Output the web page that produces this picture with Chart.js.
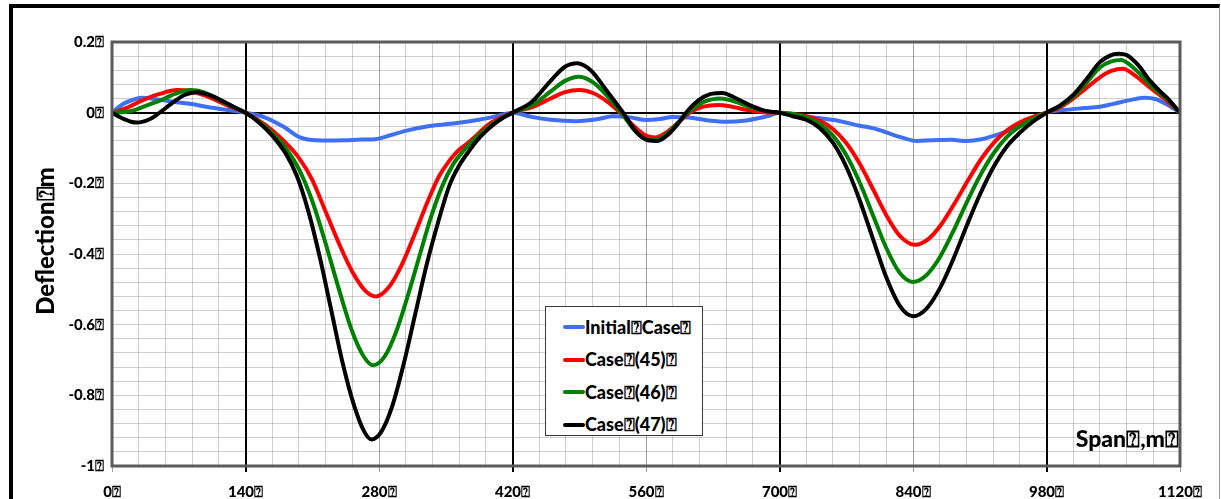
<!DOCTYPE html>
<html>
<head>
<meta charset="utf-8">
<script src="https://cdn.jsdelivr.net/npm/chart.js@4.4.1/dist/chart.umd.min.js"></script>
<style>
  html, body { margin: 0; padding: 0; background: #fff; overflow: hidden; }
  #wrap { position: relative; width: 1221px; height: 499px; }
  #frame { position: absolute; left: 9px; top: 4px; width: 1206px; height: 540px;
    border-top: 4px solid #000; border-left: 4px solid #000; border-right: 1px solid #9a9a9a; }
  #chart { position: absolute; left: 0; top: 0; }
  #legend { position: absolute; left: 545px; top: 306px; width: 158px; height: 130px;
    background: #fff; border: 1.5px solid #3a3a3a; box-sizing: border-box; padding-top: 4px; }
  .lg-row { display: flex; align-items: center; height: 32.5px; padding-left: 17px;
    font: 900 18px Lato, "DejaVu Sans", sans-serif; color: #000; }
  .lg-line { width: 22px; height: 4px; border-radius: 2px; }
</style>
</head>
<body>
<div id="wrap">
  <div id="frame"></div>
  <canvas id="chart" width="1221" height="499"></canvas>
  <div id="legend"></div>
</div>
<script>
var BOX = '\u2370';

// deflection along the span, [span m, deflection m]
var initialCase = [
  [0, 0], [12, 0.025], [24, 0.038], [32, 0.042], [46, 0.038], [64, 0.031], [85, 0.024], [100, 0.016], [120, 0.008], [140, 0],
  [160, -0.013], [180, -0.04], [197, -0.07], [221, -0.079], [245, -0.078], [262, -0.076], [276, -0.075], [292, -0.064],
  [310, -0.05], [333, -0.038], [360, -0.03], [385, -0.02], [400, -0.012], [420, 0],
  [440, -0.012], [460, -0.02], [487, -0.024], [510, -0.018], [525, -0.01], [545, -0.014], [560, -0.021], [575, -0.018],
  [588, -0.012], [605, -0.014], [625, -0.022], [644, -0.026], [665, -0.022], [690, -0.008], [700, 0],
  [720, -0.008], [740, -0.015], [760, -0.022], [784, -0.037], [800, -0.045], [812, -0.056], [828, -0.07], [844, -0.08],
  [860, -0.078], [880, -0.077], [896, -0.08], [912, -0.075], [931, -0.06], [950, -0.04], [965, -0.02], [980, 0],
  [1000, 0.008], [1020, 0.013], [1036, 0.017], [1050, 0.025], [1070, 0.037], [1083, 0.042], [1095, 0.038], [1105, 0.025], [1120, 0]
];

var case45 = [
  [0, 0], [14, 0.012], [22, 0.022], [36, 0.04], [50, 0.053], [68, 0.064], [84, 0.06], [98, 0.048], [110, 0.034], [124, 0.017], [140, 0],
  [154, -0.022], [168, -0.05], [182, -0.085], [196, -0.128], [210, -0.19], [224, -0.28], [238, -0.37], [252, -0.45], [266, -0.505],
  [277, -0.52], [290, -0.495], [304, -0.43], [318, -0.34], [332, -0.245], [343, -0.18], [354, -0.135], [364, -0.105], [375, -0.082],
  [384, -0.06], [393, -0.037], [406, -0.016], [420, 0],
  [440, 0.015], [460, 0.04], [475, 0.058], [490, 0.064], [505, 0.055], [520, 0.03], [533, 0], [548, -0.04], [560, -0.065], [570, -0.07],
  [582, -0.055], [595, -0.025], [606, 0], [620, 0.017], [636, 0.022], [650, 0.017], [665, 0.008], [680, 0.002], [700, 0],
  [714, -0.003], [728, -0.01], [742, -0.022], [756, -0.046], [770, -0.086], [784, -0.144], [798, -0.216], [812, -0.29], [826, -0.348],
  [842, -0.374], [856, -0.358], [870, -0.315], [884, -0.255], [898, -0.19], [912, -0.129], [926, -0.081], [940, -0.047], [954, -0.025],
  [968, -0.01], [980, 0],
  [994, 0.015], [1008, 0.04], [1022, 0.07], [1036, 0.1], [1048, 0.118], [1060, 0.124], [1074, 0.103], [1088, 0.072], [1106, 0.034], [1120, 0]
];

var case46 = [
  [0, 0], [14, 0.002], [22, 0.006], [36, 0.02], [50, 0.034], [66, 0.053], [82, 0.064], [96, 0.058], [110, 0.04], [124, 0.02], [140, 0],
  [154, -0.025], [168, -0.058], [182, -0.1], [196, -0.16], [210, -0.25], [224, -0.37], [238, -0.5], [252, -0.62], [264, -0.69],
  [274, -0.715], [286, -0.69], [298, -0.62], [310, -0.52], [322, -0.41], [334, -0.3], [346, -0.21], [358, -0.145], [368, -0.11],
  [380, -0.075], [393, -0.045], [406, -0.02], [420, 0],
  [440, 0.02], [460, 0.06], [475, 0.09], [490, 0.102], [505, 0.085], [520, 0.045], [534, 0], [548, -0.05], [560, -0.075], [570, -0.078],
  [582, -0.06], [595, -0.025], [606, 0.005], [620, 0.03], [638, 0.04], [655, 0.03], [670, 0.015], [685, 0.005], [700, 0],
  [714, -0.004], [728, -0.013], [742, -0.032], [756, -0.065], [770, -0.12], [784, -0.197], [798, -0.29], [812, -0.383], [826, -0.453],
  [840, -0.479], [854, -0.46], [868, -0.41], [882, -0.337], [896, -0.256], [910, -0.18], [924, -0.117], [938, -0.07], [952, -0.039],
  [966, -0.017], [980, 0],
  [994, 0.018], [1008, 0.045], [1022, 0.085], [1036, 0.128], [1048, 0.145], [1058, 0.149], [1072, 0.125], [1088, 0.081], [1106, 0.039], [1120, 0]
];

var case47 = [
  [0, 0], [10, -0.015], [26, -0.028], [40, -0.018], [50, 0], [62, 0.025], [76, 0.05], [89, 0.058], [104, 0.048], [118, 0.03], [130, 0.013], [140, 0],
  [154, -0.028], [168, -0.065], [182, -0.115], [194, -0.18], [206, -0.28], [218, -0.41], [230, -0.56], [242, -0.71], [254, -0.83],
  [264, -0.9], [272, -0.925], [282, -0.905], [294, -0.83], [306, -0.71], [318, -0.57], [330, -0.43], [342, -0.31], [354, -0.205],
  [364, -0.15], [374, -0.11], [384, -0.075], [394, -0.048], [406, -0.022], [420, 0],
  [440, 0.03], [460, 0.09], [475, 0.13], [488, 0.14], [502, 0.12], [518, 0.065], [536, 0], [550, -0.055], [562, -0.078], [572, -0.08],
  [584, -0.06], [594, -0.03], [602, 0], [615, 0.035], [628, 0.053], [640, 0.056], [655, 0.04], [670, 0.02], [685, 0.005], [700, 0],
  [714, -0.01], [728, -0.02], [742, -0.043], [756, -0.085], [770, -0.153], [784, -0.247], [798, -0.357], [812, -0.466], [826, -0.546],
  [840, -0.576], [854, -0.555], [868, -0.498], [882, -0.416], [896, -0.322], [910, -0.233], [924, -0.156], [938, -0.097], [952, -0.057],
  [966, -0.025], [980, 0],
  [994, 0.02], [1008, 0.05], [1022, 0.095], [1036, 0.143], [1050, 0.165], [1056, 0.167], [1064, 0.163], [1076, 0.135], [1088, 0.092],
  [1100, 0.058], [1106, 0.043], [1120, 0]
];

var seriesNames = ['Initial' + BOX + 'Case' + BOX, 'Case' + BOX + '(45)' + BOX, 'Case' + BOX + '(46)' + BOX, 'Case' + BOX + '(47)' + BOX];
var seriesColors = ['#3f6ff5', '#ff0000', '#008000', '#000000'];

var spanMin = 0, spanMax = 1120, spanStep = 28, spanLabelStep = 140;
var deflMin = -1, deflMax = 0.2, deflStep = 0.04, deflLabelStep = 0.2;

var X_TITLE = 'Span' + BOX + ',m' + BOX;
var Y_TITLE = 'Deflection' + BOX + 'm';
var FONT = 'Lato, "DejaVu Sans", sans-serif';

// translucent grey so the black span lines stay solid where grid lines cross them
var GRID_MINOR = 'rgba(0,0,0,0.19)';
var GRID_MID = 'rgba(0,0,0,0.36)';

function toPoints(rows) {
  return rows.map(function (r) { return { x: r[0], y: r[1] }; });
}

function isMajor(v, step) {
  var q = v / step;
  return Math.abs(q - Math.round(q)) < 1e-6;
}

var plotFrame = {
  id: 'plotFrame',
  afterDraw: function (chart) {
    var ctx = chart.ctx, a = chart.chartArea;
    ctx.save();
    ctx.strokeStyle = '#5a5a5a';
    ctx.lineWidth = 3;
    ctx.strokeRect(a.left, a.top, a.right - a.left, a.bottom - a.top);

    ctx.fillStyle = '#000';
    ctx.font = '900 23px ' + FONT;
    ctx.textAlign = 'right';
    ctx.textBaseline = 'alphabetic';
    ctx.fillText(X_TITLE, a.right - 1, a.bottom - 19);

    ctx.translate(46, 241);
    ctx.rotate(-Math.PI / 2);
    ctx.textAlign = 'center';
    ctx.textBaseline = 'middle';
    ctx.font = '900 24px ' + FONT;
    ctx.fillText(Y_TITLE, 0, 0);
    ctx.restore();
  }
};

var sources = [initialCase, case45, case46, case47];
var datasets = sources.map(function (rows, i) {
  return {
    label: seriesNames[i],
    data: toPoints(rows),
    borderColor: seriesColors[i],
    backgroundColor: seriesColors[i],
    borderWidth: 4,
    pointRadius: 0,
    fill: false,
    cubicInterpolationMode: 'monotone',
    order: 3 - i
  };
});

var chart = new Chart(document.getElementById('chart'), {
  type: 'line',
  data: { datasets: datasets },
  plugins: [plotFrame],
  options: {
    responsive: false,
    animation: false,
    devicePixelRatio: 1,
    layout: { padding: { top: 42, right: 41, left: 0, bottom: 0 } },
    plugins: { legend: { display: false }, tooltip: { enabled: false } },
    scales: {
      x: {
        type: 'linear',
        min: spanMin,
        max: spanMax,
        afterFit: function (s) { s.height = 33; },
        border: { display: false },
        grid: {
          drawTicks: true,
          tickLength: 6,
          color: function (c) {
            var v = c.tick.value;
            if (v === spanMin || v === spanMax) return 'rgba(0,0,0,0)';
            if (v % 280 === 140) return '#000';
            if (v % 280 === 0) return GRID_MID;
            return GRID_MINOR;
          },
          lineWidth: function (c) { return c.tick.value % 280 === 140 ? 2 : 1; },
          tickColor: function (c) {
            var v = c.tick.value;
            if (!isMajor(v, spanLabelStep)) return 'rgba(0,0,0,0)';
            return v % 280 === 140 ? '#000' : '#a0a0a0';
          }
        },
        ticks: {
          stepSize: spanStep,
          autoSkip: false,
          maxRotation: 0,
          padding: 11,
          color: '#000',
          font: { family: FONT, size: 15, weight: '900' },
          callback: function (v) { return isMajor(v, spanLabelStep) ? v + BOX : ''; }
        }
      },
      y: {
        type: 'linear',
        min: deflMin,
        max: deflMax,
        afterFit: function (s) { s.width = 112; },
        border: { display: false },
        grid: {
          drawTicks: false,
          color: function (c) {
            var v = Math.round(c.tick.value * 100) / 100;
            if (v === deflMin || v === deflMax) return 'rgba(0,0,0,0)';
            return v === 0 ? '#000' : GRID_MINOR;
          },
          lineWidth: function (c) { return Math.abs(c.tick.value) < 1e-9 ? 2 : 1; }
        },
        ticks: {
          stepSize: deflStep,
          autoSkip: false,
          padding: 8,
          color: '#000',
          font: { family: FONT, size: 15, weight: '900' },
          callback: function (v) {
            var r = Math.round(v * 100) / 100;
            return isMajor(r, deflLabelStep) ? r + BOX : '';
          }
        }
      }
    }
  }
});

// legend box inside the plot area
var legend = document.getElementById('legend');
chart.data.datasets.forEach(function (ds) {
  var row = document.createElement('div');
  row.className = 'lg-row';
  var line = document.createElement('span');
  line.className = 'lg-line';
  line.style.background = ds.borderColor;
  var txt = document.createElement('span');
  txt.textContent = ds.label;
  row.appendChild(line);
  row.appendChild(txt);
  legend.appendChild(row);
});
</script>
</body>
</html>
